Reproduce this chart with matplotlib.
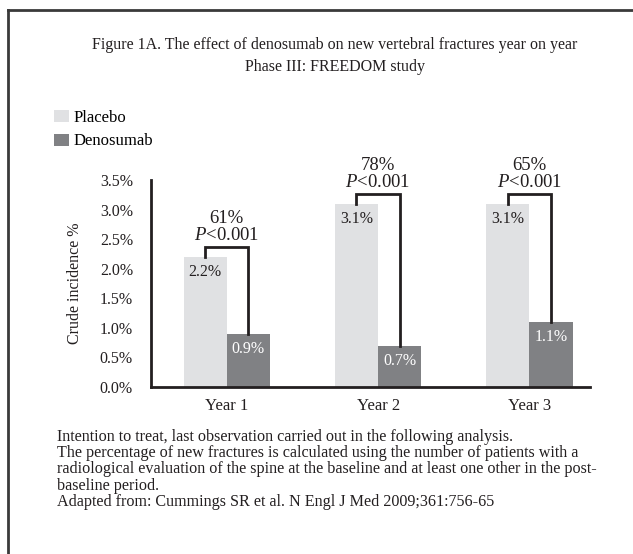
import matplotlib
matplotlib.use('Agg')
import matplotlib.pyplot as plt
from matplotlib.lines import Line2D
import numpy as np

# Data
years = ['Year 1', 'Year 2', 'Year 3']
placebo = [2.2, 3.1, 3.1]
denosumab = [0.9, 0.7, 1.1]
reduction = ['61%', '78%', '65%']
p_values = ['<0.001', '<0.001', '<0.001']
y_ticks = [0.0, 0.5, 1.0, 1.5, 2.0, 2.5, 3.0, 3.5]

title = ('Figure 1A. The effect of denosumab on new vertebral fractures year on year\n'
         'Phase III: FREEDOM study')
footnotes = [
    'Intention to treat, last observation carried out in the following analysis.',
    'The percentage of new fractures is calculated using the number of patients with a',
    'radiological evaluation of the spine at the baseline and at least one other in the post-',
    'baseline period.',
    'Adapted from: Cummings SR et al. N Engl J Med 2009;361:756-65',
]

plt.rcParams['font.family'] = 'Liberation Serif'
plt.rcParams['mathtext.fontset'] = 'custom'
plt.rcParams['mathtext.rm'] = 'Liberation Serif'
plt.rcParams['mathtext.it'] = 'Liberation Serif:italic'

ink = '#231f20'
light = '#e0e1e3'
dark = '#808184'

W, H = 633, 554
fig = plt.figure(figsize=(W / 100, H / 100), dpi=100)

def fx(px):
    return px / W

def fy(py):
    return 1 - py / H

# outer frame (top and left only)
fig.add_artist(Line2D([fx(8), 1], [fy(10), fy(10)], color='#3a3a3a', lw=2))
fig.add_artist(Line2D([fx(8), fx(8)], [fy(10), 0], color='#3a3a3a', lw=2))

fig.text(fx(335), fy(56), title, ha='center', va='center', fontsize=11.5,
         color=ink, linespacing=1.45)

ax = fig.add_axes([fx(151), fy(387), fx(590) - fx(151), (387 - 180) / H])

x = np.arange(len(years))
bw = 0.285
b1 = ax.bar(x - bw / 2, placebo, bw, color=light, label='Placebo')
b2 = ax.bar(x + bw / 2, denosumab, bw, color=dark, label='Denosumab')

for i in range(len(years)):
    ax.annotate(f'{placebo[i]:.1f}%', (x[i] - bw / 2, placebo[i]), xytext=(0, -11),
                textcoords='offset points', ha='center', va='center',
                fontsize=11.5, color=ink)
    ax.annotate(f'{denosumab[i]:.1f}%', (x[i] + bw / 2, denosumab[i]), xytext=(0, -11),
                textcoords='offset points', ha='center', va='center',
                fontsize=11.5, color='white')
    # bracket
    h = max(placebo[i], denosumab[i]) + 0.17
    ax.plot([x[i] - bw / 2, x[i] - bw / 2, x[i] + bw / 2, x[i] + bw / 2],
            [placebo[i], h, h, denosumab[i]], color=ink, lw=2, solid_joinstyle='miter')
    ax.annotate(reduction[i] + '\n$P$' + p_values[i], (x[i], h), xytext=(0, 2),
                textcoords='offset points', ha='center', va='bottom',
                fontsize=13.5, color=ink, linespacing=1.0)

ax.set_xlim(-0.5, 2.4)
ax.set_ylim(0, 3.5)
ax.set_xticks(x)
ax.set_xticklabels(years, fontsize=12, color=ink)
ax.set_yticks(y_ticks)
ax.set_yticklabels([f'{v:.1f}%' for v in y_ticks], fontsize=11.5, color=ink)
ax.tick_params(axis='y', length=0, pad=13)
ax.tick_params(axis='x', length=0, pad=8)
ax.set_ylabel('Crude incidence %', fontsize=11.5, color=ink, labelpad=12)
for s in ['top', 'right']:
    ax.spines[s].set_visible(False)
for s in ['left', 'bottom']:
    ax.spines[s].set_linewidth(2)
    ax.spines[s].set_color(ink)

ax.legend(handles=[b1, b2], loc='upper left', bbox_to_anchor=(fx(54), fy(110)),
          bbox_transform=fig.transFigure, frameon=False, fontsize=12,
          handlelength=0.9, handleheight=0.75, handletextpad=0.3,
          labelspacing=0.45, borderpad=0, borderaxespad=0)

for k, line in enumerate(footnotes):
    fig.text(fx(57), fy(437 + k * 16.2), line, ha='left', va='center',
             fontsize=11.6, color=ink)

fig.savefig('out.png', dpi=100)
